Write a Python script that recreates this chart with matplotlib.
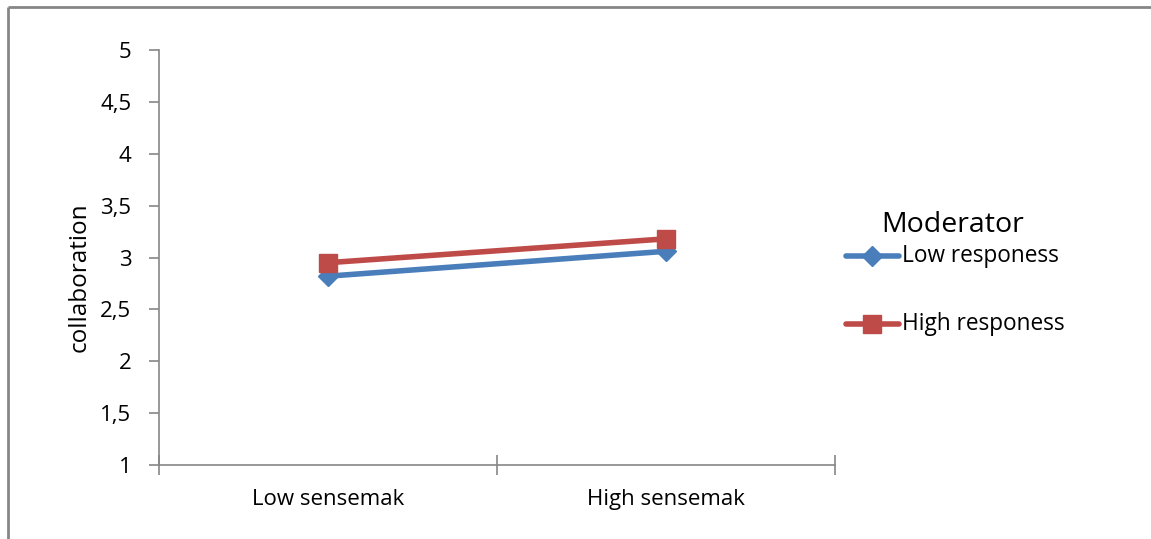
import matplotlib.pyplot as plt
from matplotlib.lines import Line2D

plt.rcParams['font.family'] = ['Open Sans', 'DejaVu Sans']

categories = ["Low sensemak", "High sensemak"]
low_responess = [2.82, 3.06]
high_responess = [2.95, 3.18]
series_names = ["Low responess", "High responess"]
y_ticks = [1, 1.5, 2, 2.5, 3, 3.5, 4, 4.5, 5]
y_tick_labels = ["1", "1,5", "2", "2,5", "3", "3,5", "4", "4,5", "5"]

W, H = 1151, 539
fig = plt.figure(figsize=(W / 100, H / 100), dpi=100)


def fx(px):
    return px / W


def fy(py):
    return 1 - py / H


# outer chart frame: top and left edges (the rest runs off the canvas)
frame = "#868686"
fig.add_artist(Line2D([fx(8), fx(W + 10)], [fy(7), fy(7)], color=frame,
                      linewidth=2, solid_capstyle="butt",
                      transform=fig.transFigure))
fig.add_artist(Line2D([fx(8), fx(8)], [fy(7), fy(H + 10)], color=frame,
                      linewidth=2, solid_capstyle="butt",
                      transform=fig.transFigure))

ax = fig.add_axes([fx(159), fy(465), (835 - 159) / W, (465 - 50) / H])
x = [0.5, 1.5]
blue = "#4a7ebb"
red = "#be4b48"
styles = [
    dict(color=blue, linewidth=4, marker="D", markersize=10,
         solid_capstyle="round"),
    dict(color=red, linewidth=4, marker="s", markersize=13,
         solid_capstyle="round"),
]
ax.plot(x, low_responess, label=series_names[0], zorder=3, **styles[0])
ax.plot(x, high_responess, label=series_names[1], zorder=4, **styles[1])

ax.set_xlim(0, 2)
ax.set_ylim(1, 5)
ax.set_yticks(y_ticks)
ax.set_yticklabels(y_tick_labels)
ax.set_xticks([0, 1, 2])
ax.set_xticklabels([])
ax.set_xticks(x, minor=True)
ax.set_xticklabels(categories, minor=True)
ax.tick_params(axis="x", which="minor", length=0, pad=17, labelsize=16)
ax.tick_params(axis="x", which="major", direction="inout", length=14,
               color=frame, width=1.2)
ax.tick_params(axis="y", direction="out", length=7, color=frame,
               width=1.2, labelsize=16, pad=13)
for side in ("top", "right"):
    ax.spines[side].set_visible(False)
for side in ("left", "bottom"):
    ax.spines[side].set_color(frame)
    ax.spines[side].set_linewidth(1.2)
ax.set_ylabel("collaboration", fontsize=17.5, va="center")
ax.yaxis.set_label_coords((80 - 159) / 676, (465 - 277.5) / 415)

# legend with a title, laid out in figure pixels
fig.text(fx(953), fy(225), "Moderator", fontsize=20.5, ha="center",
         va="center")
for name, style, ypx in zip(series_names, styles, [256, 324]):
    fig.add_artist(Line2D([fx(846), fx(872), fx(899)],
                          [fy(ypx), fy(ypx), fy(ypx)], markevery=[1],
                          transform=fig.transFigure, **style))
    fig.text(fx(902), fy(ypx), name, fontsize=16.3, ha="left", va="center")

fig.savefig("out.png", dpi=100)
